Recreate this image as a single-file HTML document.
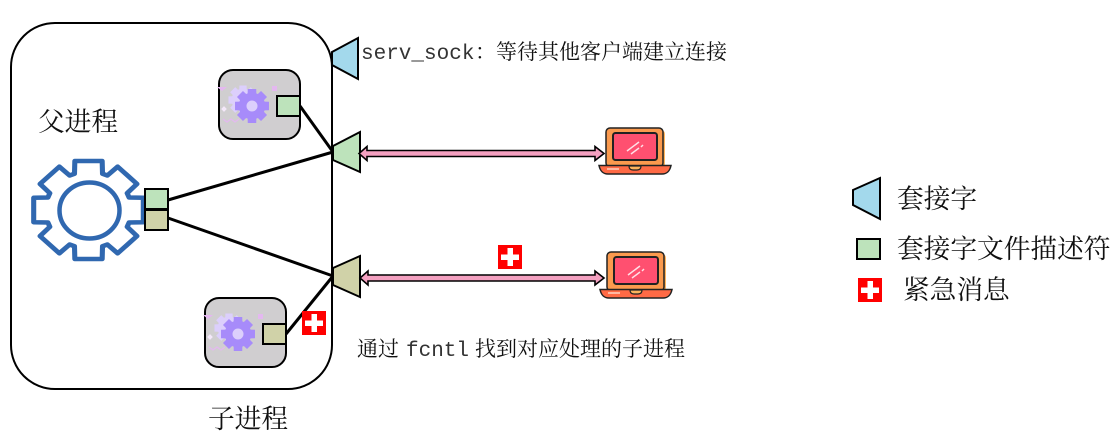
<!DOCTYPE html>
<html><head><meta charset="utf-8"><style>
html,body{margin:0;padding:0;background:#fff}
svg{display:block}
text{font-family:"Liberation Sans","Noto Serif CJK SC",serif;fill:#111}
.m{font-family:"Liberation Mono","Noto Serif CJK SC",monospace;fill:#333}
</style></head><body>
<svg width="1116" height="446" viewBox="0 0 1116 446" xmlns="http://www.w3.org/2000/svg">
<defs>
<polygon id="g" points="12.1,-48.5 12.4,-35.9 16.7,-34.2 25.8,-42.9 42.9,-25.8 34.2,-16.7 35.9,-12.4 48.5,-12.1 48.5,12.1 35.9,12.4 34.2,16.7 42.9,25.8 25.8,42.9 16.7,34.2 12.4,35.9 12.1,48.5 -12.1,48.5 -12.4,35.9 -16.7,34.2 -25.8,42.9 -42.9,25.8 -34.2,16.7 -35.9,12.4 -48.5,12.1 -48.5,-12.1 -35.9,-12.4 -34.2,-16.7 -42.9,-25.8 -25.8,-42.9 -16.7,-34.2 -12.4,-35.9 -12.1,-48.5"/>
<g id="proc">
<rect x="0" y="0" width="81" height="69" rx="14" fill="#d0ced0" stroke="#000" stroke-width="2"/>
<polygon points="-2,17 8,17 3,21" fill="#e4b8f0"/>
<use href="#g" transform="translate(24,30) scale(.3)" fill="#dccffc"/>
<use href="#g" transform="translate(33,36) scale(.35)" fill="#a78bfa"/>
<circle cx="33" cy="36" r="5.500" fill="#dccffc"/>
<rect x="53" y="16" width="5" height="5" fill="#e4b8f0"/>
<rect x="3" y="37" width="4" height="4" fill="#f4e8fa" transform="rotate(45 5 39)"/>
<path d="M4,49 l4,3 4,-3 4,3 4,-3" fill="none" stroke="#e4b8f0" stroke-width="1.200"/>
</g>
<g id="lap">
<rect x="9" y="3" width="57" height="38" rx="4" fill="#ffb45c"/>
<rect x="7" y="1" width="57" height="39" rx="4" fill="#fb9a4e" stroke="#222" stroke-width="1.500"/>
<rect x="14" y="6" width="44" height="27" rx="2.500" fill="#ff5070" stroke="#222" stroke-width="2"/>
<path d="M28,24 l12,-9 M32,27 l8,-6 M42,20 l2,-2" stroke="#ffe0e6" stroke-width="1.500" fill="none"/>
<path d="M0,38.500 H72 C71,43 69,47 63,47 H9 C3,47 1,43 0,38.500Z" fill="#ff6a45" stroke="#222" stroke-width="1.500"/>
<path d="M30,39 H42 C42,42 40,43 38,43 H34 C32,43 30,42 30,39Z" fill="#fbb45c" stroke="#222" stroke-width="1.200"/>
<path d="M8,42 H20" stroke="#ffd2c2" stroke-width="1.500"/>
</g>
<g id="plus"><rect width="24" height="24" fill="#ff0000"/><rect x="9.500" y="3" width="5.500" height="18" fill="#fff"/><rect x="3" y="9.500" width="18" height="5.500" fill="#fff"/></g>
</defs>

<rect x="11" y="23" width="321" height="366" rx="44" fill="#fff" stroke="#000" stroke-width="2"/>

<g stroke="#000" stroke-width="3" fill="none">
<path d="M168,200 L333,152"/><path d="M168,218 L333,276"/>
<path d="M300,106 L333,152"/><path d="M286,334 L333,276"/>
</g>

<use href="#g" transform="translate(88.500,210) scale(1.130,1.010)" fill="#fff" stroke="#3068b0" stroke-width="4.500" stroke-linejoin="round" vector-effect="non-scaling-stroke"/>
<ellipse cx="89.500" cy="210.500" rx="30" ry="28" fill="none" stroke="#3068b0" stroke-width="4.500"/>

<use href="#proc" x="219" y="70"/>
<use href="#proc" x="205" y="298"/>

<g stroke="#000" stroke-width="2">
<rect x="277" y="96" width="23" height="20" fill="#bde3bb"/>
<rect x="263" y="324" width="23" height="20" fill="#d0d2a8"/>
<rect x="145" y="189" width="23" height="20" fill="#bde3bb"/>
<rect x="145" y="210" width="23" height="20" fill="#d0d2a8"/>
<rect x="857" y="239" width="23" height="20" fill="#bde3bb"/>
<polygon points="332,52 358,38 358,79 332,65" fill="#a3d9ec"/>
<polygon points="333,146 360,132 360,172 333,160" fill="#bde3bb"/>
<polygon points="333,268 360,256 360,297 333,285" fill="#d0d2a8"/>
<polygon points="853,190 880,178 880,219 853,205" fill="#a3d9ec"/>
</g>

<g fill="#f4a0c0" stroke="#000" stroke-width="1.600">
<polygon points="359,153.500 367,146.500 367,150.500 595,150.500 595,146.500 604,153.500 595,160.500 595,156.500 367,156.500 367,160.500"/>
<polygon points="360,278 368,271 368,275 595,275 595,271 604,278 595,285 595,281 368,281 368,285"/>
</g>

<use href="#lap" x="599" y="127"/>
<use href="#lap" x="600" y="251"/>

<use href="#plus" x="498" y="245"/>
<use href="#plus" x="302" y="311"/>
<use href="#plus" x="858" y="278"/>

<text x="38" y="131" font-size="26.700">父进程</text>
<text x="208" y="428" font-size="26.700">子进程</text>
<text x="897" y="208" font-size="26.700">套接字</text>
<text x="897" y="258" font-size="26.700">套接字文件描述符</text>
<text x="903" y="299" font-size="26.700">紧急消息</text>
<text class="m" x="361" y="59" font-size="21">serv_sock</text>
<text x="475" y="59" font-size="21">：等待其他客户端建立连接</text>
<text x="357" y="356" font-size="21">通过</text>
<text class="m" x="406" y="356" font-size="21">fcntl</text>
<text x="475" y="356" font-size="21">找到对应处理的子进程</text>
</svg>
</body></html>
